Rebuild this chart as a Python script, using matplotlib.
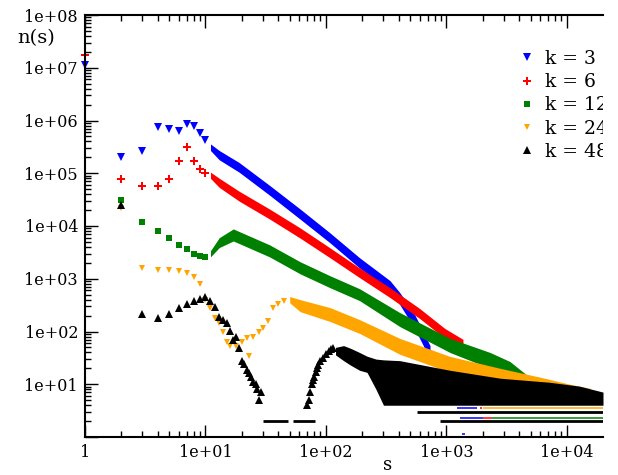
import math
import matplotlib
matplotlib.use('Agg')
import matplotlib.pyplot as plt
from matplotlib.ticker import LogLocator, FuncFormatter, NullFormatter
from matplotlib.transforms import offset_copy

plt.rcParams['font.family'] = 'DejaVu Serif'

labels = ['k = 3', 'k = 6', 'k = 12', 'k = 24', 'k = 48']
colors = ['blue', 'red', 'green', 'orange', 'black']
markers = ['v', 'P', 's', 'v', '^']

# small s: one point per cluster size
k3_s = [1, 2, 3, 4, 5, 6, 7, 8, 9, 10]
k3_n = [1.14e7, 2.0e5, 2.6e5, 7.4e5, 6.8e5, 6.2e5, 8.4e5, 7.7e5, 5.9e5, 4.2e5]
k6_s = [1, 2, 3, 4, 5, 6, 7, 8, 9, 10]
k6_n = [1.76e7, 7.7e4, 5.7e4, 5.7e4, 7.7e4, 1.68e5, 3.2e5, 1.68e5, 1.19e5, 1.0e5]
k12_s = [2, 3, 4, 5, 6, 7, 8, 9, 10]
k12_n = [3.1e4, 1.19e4, 8.05e3, 5.9e3, 4.4e3, 3.7e3, 2.96e3, 2.7e3, 2.6e3]
k24_s = [2, 3, 4, 5, 6, 7, 8, 9, 10, 11, 12, 13, 14, 15, 16, 18, 20, 22, 23,
         25, 28, 30, 33, 36, 40, 45]
k24_n = [2.2e4, 1610, 1480, 1480, 1420, 1300, 1090, 805, 400, 284, 184, 142,
         96, 62, 54, 54, 62, 74, 35, 80, 96, 114, 161, 284, 337, 385]
k48_s = [2, 3, 4, 5, 6, 7, 8, 9, 10, 11, 12, 13, 14, 15, 16, 17, 18, 19, 20,
         21, 22, 23, 24, 25, 26, 27, 28, 29,
         70, 72, 74, 76, 78, 80, 82, 84, 86, 90, 95, 100, 105, 110, 115]
k48_n = [2.5e4, 219, 183, 219, 284, 337, 385, 420, 457, 385, 296, 192, 168,
         142, 104, 68, 77, 48, 28, 24, 19, 16, 14, 11, 10, 8, 5, 7,
         4, 5, 7, 10, 12, 14, 17, 20, 23, 27, 32, 38, 42, 46, 48]

# large s: dense points, given as the spread (low / high) of the cloud
k3_band_s = [11, 13, 19, 34, 61, 108, 190, 340, 410, 550, 730]
k3_band_hi = [3.6e5, 2.7e5, 1.6e5, 5.9e4, 2.1e4, 7.4e3, 2.5e3, 920, 545, 200, 54]
k3_band_lo = [2.7e5, 1.8e5, 1.05e5, 3.85e4, 1.35e4, 4.8e3, 1.6e3, 595, 323, 109, 30]
k6_band_s = [11, 13, 19, 34, 61, 108, 190, 340, 600, 970, 1370]
k6_band_hi = [1.05e5, 8.05e4, 4.57e4, 2.1e4, 9.2e3, 3.85e3, 1.6e3, 676, 272, 114, 71]
k6_band_lo = [8.0e4, 5.4e4, 2.97e4, 1.36e4, 5.9e3, 2.5e3, 1.05e3, 440, 176, 74, 44]
k12_band_s = [11, 13, 17, 23, 34, 61, 108, 190, 410, 1070, 2300, 3360, 4660]
k12_band_hi = [3.4e3, 6.0e3, 8.8e3, 6.5e3, 4.4e3, 2.1e3, 1.14e3, 647, 228, 74, 40, 27, 14.8]
k12_band_lo = [2.6e3, 3.9e3, 5.2e3, 3.85e3, 2.6e3, 1.24e3, 676, 385, 124, 40, 20, 13.6, 9.2]
k24_band_s = [50, 61, 108, 190, 410, 1070, 2800, 6000, 10600, 15500]
k24_band_hi = [460, 402, 284, 168, 74, 33.7, 20, 13.6, 10, 8.4]
k24_band_lo = [350, 238, 155, 92, 37, 16.8, 10, 7.4, 6.5, 5.9]
k48_band_s = [120, 140, 160, 190, 219, 260, 300, 410, 1070, 2800, 7200, 12700, 19900]
k48_band_hi = [50, 54, 48, 40, 34, 30, 29, 28, 18.4, 13, 10.9, 9.2, 7.1]
k48_band_lo = [36, 28, 23, 18.4, 16.8, 8, 4, 4, 4, 4, 4, 4, 4]

# runs of sizes where the count sits on a small integer: (s from, s to, n)
k3_rows = [(1230, 1790, 3), (1300, 2000, 2), (1350, 1420, 1)]
k6_rows = [(1900, 1960, 3), (2000, 2400, 2)]
k12_rows = [(2400, 19900, 2)]
k24_rows = [(2000, 19900, 3)]
k48_rows = [(30, 48, 2), (53, 81, 2), (30, 80, 1), (570, 19900, 3),
            (880, 19900, 2), (1000, 19900, 1)]

series = [
    (k3_s, k3_n, k3_band_s, k3_band_lo, k3_band_hi, k3_rows),
    (k6_s, k6_n, k6_band_s, k6_band_lo, k6_band_hi, k6_rows),
    (k12_s, k12_n, k12_band_s, k12_band_lo, k12_band_hi, k12_rows),
    (k24_s, k24_n, k24_band_s, k24_band_lo, k24_band_hi, k24_rows),
    (k48_s, k48_n, k48_band_s, k48_band_lo, k48_band_hi, k48_rows),
]
msizes = [6, 5.5, 4.5, 4.5, 5.5]

fig = plt.figure(figsize=(6.18, 4.75), dpi=100)
ax = fig.add_axes([85 / 618, 38 / 475, 518 / 618, 422 / 475])
ax.set_xscale('log')
ax.set_yscale('log')
ax.set_xlim(1, 19900)
ax.set_ylim(1, 1e8)

up = offset_copy(ax.transData, fig=fig, y=3.5, units='dots')
handles = []
for i, (s, n, bs, blo, bhi, rows) in enumerate(series):
    c = colors[i]
    ax.fill_between(bs, blo, bhi, color=c, lw=0, zorder=2 + i)
    for s0, s1, cnt in rows:
        if c == 'black':
            ax.plot([s0, s1], [cnt, cnt], color=c, lw=2, zorder=2 + i,
                    solid_capstyle='butt')
        else:
            ax.plot([s0, s1], [cnt, cnt], color=c, lw=1.1, zorder=2 + i,
                    transform=up, solid_capstyle='butt')
    h, = ax.plot(s, n, ls='none', marker=markers[i], ms=msizes[i], mew=0,
                 color=c, zorder=2 + i, clip_on=False, label=labels[i])
    handles.append(h)


def fmt(v, pos):
    if v < 5:
        return '1'
    return '1e+%02d' % round(math.log10(v))


def yfmt(v, pos):
    if v < 5:
        return ''
    return fmt(v, pos)


ax.xaxis.set_major_locator(LogLocator(base=10, numticks=20))
ax.yaxis.set_major_locator(LogLocator(base=10, numticks=20))
ax.xaxis.set_minor_locator(LogLocator(base=10, subs=range(2, 10), numticks=100))
ax.yaxis.set_minor_locator(LogLocator(base=10, subs=range(2, 10), numticks=100))
ax.xaxis.set_major_formatter(FuncFormatter(fmt))
ax.yaxis.set_major_formatter(FuncFormatter(yfmt))
ax.xaxis.set_minor_formatter(NullFormatter())
ax.yaxis.set_minor_formatter(NullFormatter())

ax.tick_params(which='both', direction='in', top=True, right=False,
               labelsize=11.5, width=1)
ax.tick_params(which='major', length=9, pad=5)
ax.tick_params(which='minor', length=4.5)
ax.spines['right'].set_visible(False)
for sp in ['left', 'top', 'bottom']:
    ax.spines[sp].set_linewidth(1.5)
    ax.spines[sp].set_zorder(10)

fig.text(388 / 618, 1 - 465 / 475, 's', ha='center', va='center', fontsize=13)
fig.text(36 / 618, 1 - 38 / 475, 'n(s)', ha='center', va='center', fontsize=14)

leg = ax.legend(handles=handles, loc='upper left',
                bbox_to_anchor=(518 / 618, 1 - 50 / 475),
                bbox_transform=fig.transFigure, frameon=False, borderpad=0,
                borderaxespad=0, handlelength=1, handletextpad=0.45,
                labelspacing=0.28, fontsize=13.5)
for t in leg.get_texts():
    t.set_clip_box(ax.bbox)
    t.set_clip_on(True)

fig.savefig('out.png', dpi=100)
